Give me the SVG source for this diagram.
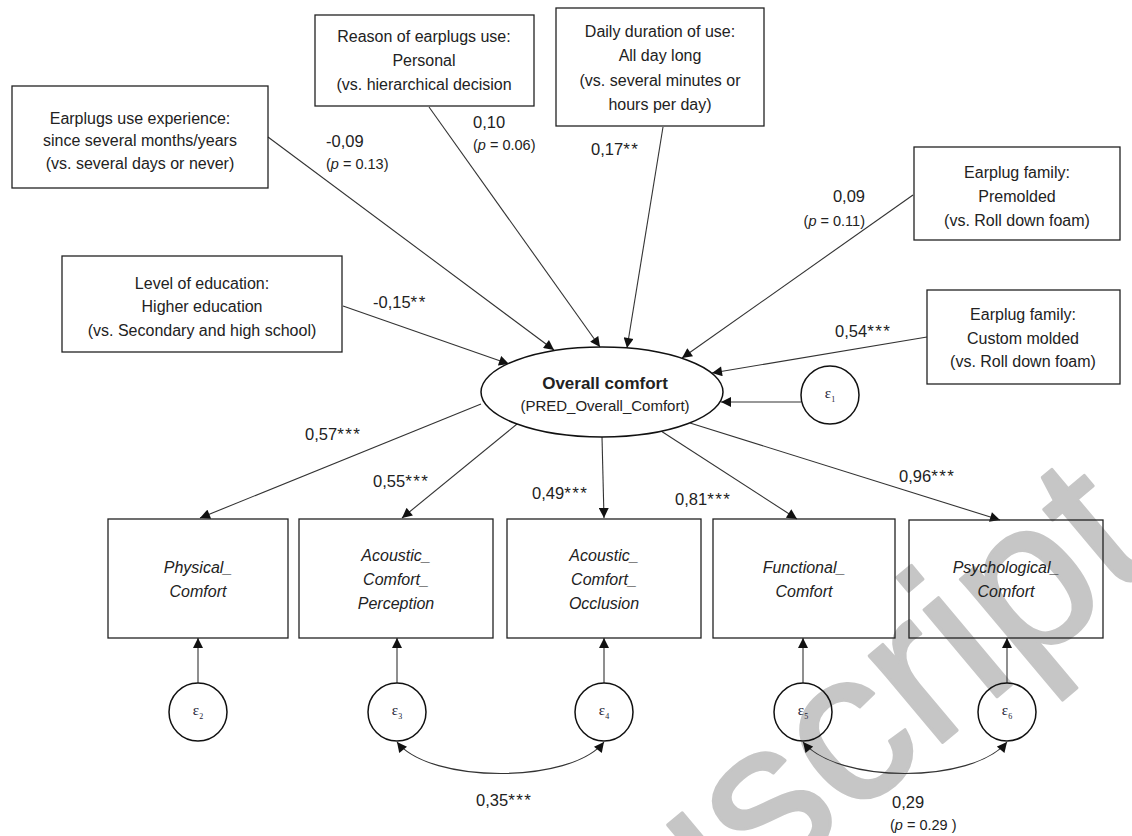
<svg xmlns="http://www.w3.org/2000/svg" width="1132" height="836" viewBox="0 0 1132 836">
<defs>
<marker id="ah" viewBox="0 0 10 10" refX="10" refY="5" markerWidth="11" markerHeight="10" markerUnits="userSpaceOnUse" orient="auto-start-reverse">
<path d="M0,0 L10,5 L0,10 z" fill="#111"/>
</marker>
<style>
.box{fill:none;stroke:#222;stroke-width:1.3}
.t{font-family:"Liberation Sans",Arial,sans-serif;font-size:16px;fill:#222;text-anchor:middle}
.it{font-style:italic}
.lb{font-family:"Liberation Sans",Arial,sans-serif;font-size:16.5px;fill:#222}
.st{letter-spacing:1.5px;font-size:17px}
.pv{font-family:"Liberation Sans",Arial,sans-serif;font-size:14.5px;fill:#222}
.c{fill:none;stroke:#111;stroke-width:1.5}
.e{font-family:"Liberation Serif","Times New Roman",serif;font-size:15px;fill:#223;text-anchor:middle}
.e tspan{font-size:8px}
.ln{fill:none;stroke:#333;stroke-width:1.1;marker-end:url(#ah)}
.dbl{fill:none;stroke:#333;stroke-width:1.1;marker-end:url(#ah);marker-start:url(#ah)}
.wm{font-family:"Liberation Sans",Arial,sans-serif;font-size:215px;fill:#c6c6c6;stroke:#c6c6c6;stroke-width:3;stroke-linejoin:round}
</style>
</defs>
<rect width="1132" height="836" fill="#fff"/>
<text class="wm" text-anchor="end" transform="translate(1160,560) rotate(-40)">Manuscript</text>

<g id="connectors">
<line class="ln" x1="268" y1="137" x2="554" y2="350"/>
<line class="ln" x1="429" y1="107" x2="600" y2="347"/>
<line class="ln" x1="663" y1="127" x2="627" y2="348"/>
<line class="ln" x1="343" y1="306" x2="509" y2="364"/>
<line class="ln" x1="913" y1="195" x2="682" y2="358"/>
<line class="ln" x1="927" y1="337" x2="712" y2="373"/>
<line class="ln" x1="801" y1="402" x2="721" y2="402"/>
<line class="ln" x1="481" y1="404" x2="200" y2="518"/>
<line class="ln" x1="517" y1="424" x2="402" y2="518"/>
<line class="ln" x1="602" y1="437" x2="604" y2="518"/>
<line class="ln" x1="661" y1="431" x2="797" y2="519"/>
<line class="ln" x1="690" y1="423" x2="1000" y2="520"/>
<line class="ln" x1="198" y1="683" x2="198" y2="638"/>
<line class="ln" x1="397" y1="683" x2="397" y2="638"/>
<line class="ln" x1="604" y1="683" x2="604" y2="638"/>
<line class="ln" x1="803" y1="683" x2="803" y2="638"/>
<line class="ln" x1="1007" y1="683" x2="1007" y2="638"/>
<path class="dbl" d="M397,742 C430,784 571,784 604,742"/>
<path class="dbl" d="M803,742 C838,784 972,784 1007,742"/>
</g>

<g id="n-experience">
<rect class="box" x="12" y="86" width="256" height="102"/>
<text class="t" x="140" y="124">Earplugs use experience:</text>
<text class="t" x="140" y="146">since several months/years</text>
<text class="t" x="140" y="169">(vs. several days or never)</text>
</g>
<g id="n-reason">
<rect class="box" x="315" y="15" width="219" height="91"/>
<text class="t" x="424" y="42">Reason of earplugs use:</text>
<text class="t" x="424" y="66">Personal</text>
<text class="t" x="424" y="90">(vs. hierarchical decision</text>
</g>
<g id="n-daily">
<rect class="box" x="556" y="8" width="208" height="118"/>
<text class="t" x="660" y="37">Daily duration of use:</text>
<text class="t" x="660" y="61">All day long</text>
<text class="t" x="660" y="86">(vs. several minutes or</text>
<text class="t" x="660" y="110">hours per day)</text>
</g>
<g id="n-premolded">
<rect class="box" x="914" y="147" width="206" height="93"/>
<text class="t" x="1017" y="178">Earplug family:</text>
<text class="t" x="1017" y="202">Premolded</text>
<text class="t" x="1017" y="226">(vs. Roll down foam)</text>
</g>
<g id="n-education">
<rect class="box" x="62" y="256" width="280" height="96"/>
<text class="t" x="202" y="289">Level of education:</text>
<text class="t" x="202" y="312">Higher education</text>
<text class="t" x="202" y="336">(vs. Secondary and high school)</text>
</g>
<g id="n-custom">
<rect class="box" x="927" y="290" width="193" height="94"/>
<text class="t" x="1023" y="320">Earplug family:</text>
<text class="t" x="1023" y="344">Custom molded</text>
<text class="t" x="1023" y="367">(vs. Roll down foam)</text>
</g>

<g id="n-overall">
<ellipse cx="602" cy="392" rx="121" ry="45" fill="#fff" stroke="#111" stroke-width="1.5"/>
<text class="t" x="605" y="389" style="font-weight:bold;font-size:17px">Overall comfort</text>
<text class="t" x="605" y="411" style="font-size:15px">(PRED_Overall_Comfort)</text>
</g>

<g id="n-e1"><circle class="c" cx="830" cy="395" r="29"/><text class="e" x="830" y="398">ε<tspan dy="4">1</tspan></text></g>

<g id="n-physical">
<rect class="box" x="108" y="519" width="180" height="119"/>
<text class="t it" x="198" y="573">Physical_</text>
<text class="t it" x="198" y="597">Comfort</text>
</g>
<g id="n-perception">
<rect class="box" x="299" y="519" width="194" height="119"/>
<text class="t it" x="396" y="561">Acoustic_</text>
<text class="t it" x="396" y="585">Comfort_</text>
<text class="t it" x="396" y="609">Perception</text>
</g>
<g id="n-occlusion">
<rect class="box" x="507" y="519" width="194" height="119"/>
<text class="t it" x="604" y="561">Acoustic_</text>
<text class="t it" x="604" y="585">Comfort_</text>
<text class="t it" x="604" y="609">Occlusion</text>
</g>
<g id="n-functional">
<rect class="box" x="713" y="519" width="182" height="119"/>
<text class="t it" x="804" y="573">Functional_</text>
<text class="t it" x="804" y="597">Comfort</text>
</g>
<g id="n-psychological">
<rect class="box" x="909" y="520" width="194" height="118"/>
<text class="t it" x="1006" y="573">Psychological_</text>
<text class="t it" x="1006" y="597">Comfort</text>
</g>

<g id="n-e2"><circle class="c" cx="198" cy="712" r="29"/><text class="e" x="198" y="715">ε<tspan dy="4">2</tspan></text></g>
<g id="n-e3"><circle class="c" cx="397" cy="712" r="29"/><text class="e" x="397" y="715">ε<tspan dy="4">3</tspan></text></g>
<g id="n-e4"><circle class="c" cx="604" cy="712" r="29"/><text class="e" x="604" y="715">ε<tspan dy="4">4</tspan></text></g>
<g id="n-e5"><circle class="c" cx="803" cy="712" r="29"/><text class="e" x="803" y="715">ε<tspan dy="4">5</tspan></text></g>
<g id="n-e6"><circle class="c" cx="1007" cy="712" r="29"/><text class="e" x="1007" y="715">ε<tspan dy="4">6</tspan></text></g>

<g id="labels">
<text class="lb" x="326" y="147">-0,09</text>
<text class="pv" x="326" y="169">(<tspan font-style="italic">p</tspan> = 0.13)</text>
<text class="lb" x="473" y="128">0,10</text>
<text class="pv" x="473" y="150">(<tspan font-style="italic">p</tspan> = 0.06)</text>
<text class="lb" x="591" y="155">0,17<tspan class="st">**</tspan></text>
<text class="lb" x="373" y="308">-0,15<tspan class="st">**</tspan></text>
<text class="lb" x="865" y="202" text-anchor="end">0,09</text>
<text class="pv" x="865" y="226" text-anchor="end">(<tspan font-style="italic">p</tspan> = 0.11)</text>
<text class="lb" x="835" y="337">0,54<tspan class="st">***</tspan></text>
<text class="lb" x="305" y="440">0,57<tspan class="st">***</tspan></text>
<text class="lb" x="373" y="487">0,55<tspan class="st">***</tspan></text>
<text class="lb" x="532" y="499">0,49<tspan class="st">***</tspan></text>
<text class="lb" x="675" y="505">0,81<tspan class="st">***</tspan></text>
<text class="lb" x="899" y="482">0,96<tspan class="st">***</tspan></text>
<text class="lb" x="476" y="806">0,35<tspan class="st">***</tspan></text>
<text class="lb" x="892" y="808">0,29</text>
<text class="pv" x="890" y="830">(<tspan font-style="italic">p</tspan> = 0.29 )</text>
</g>
</svg>
